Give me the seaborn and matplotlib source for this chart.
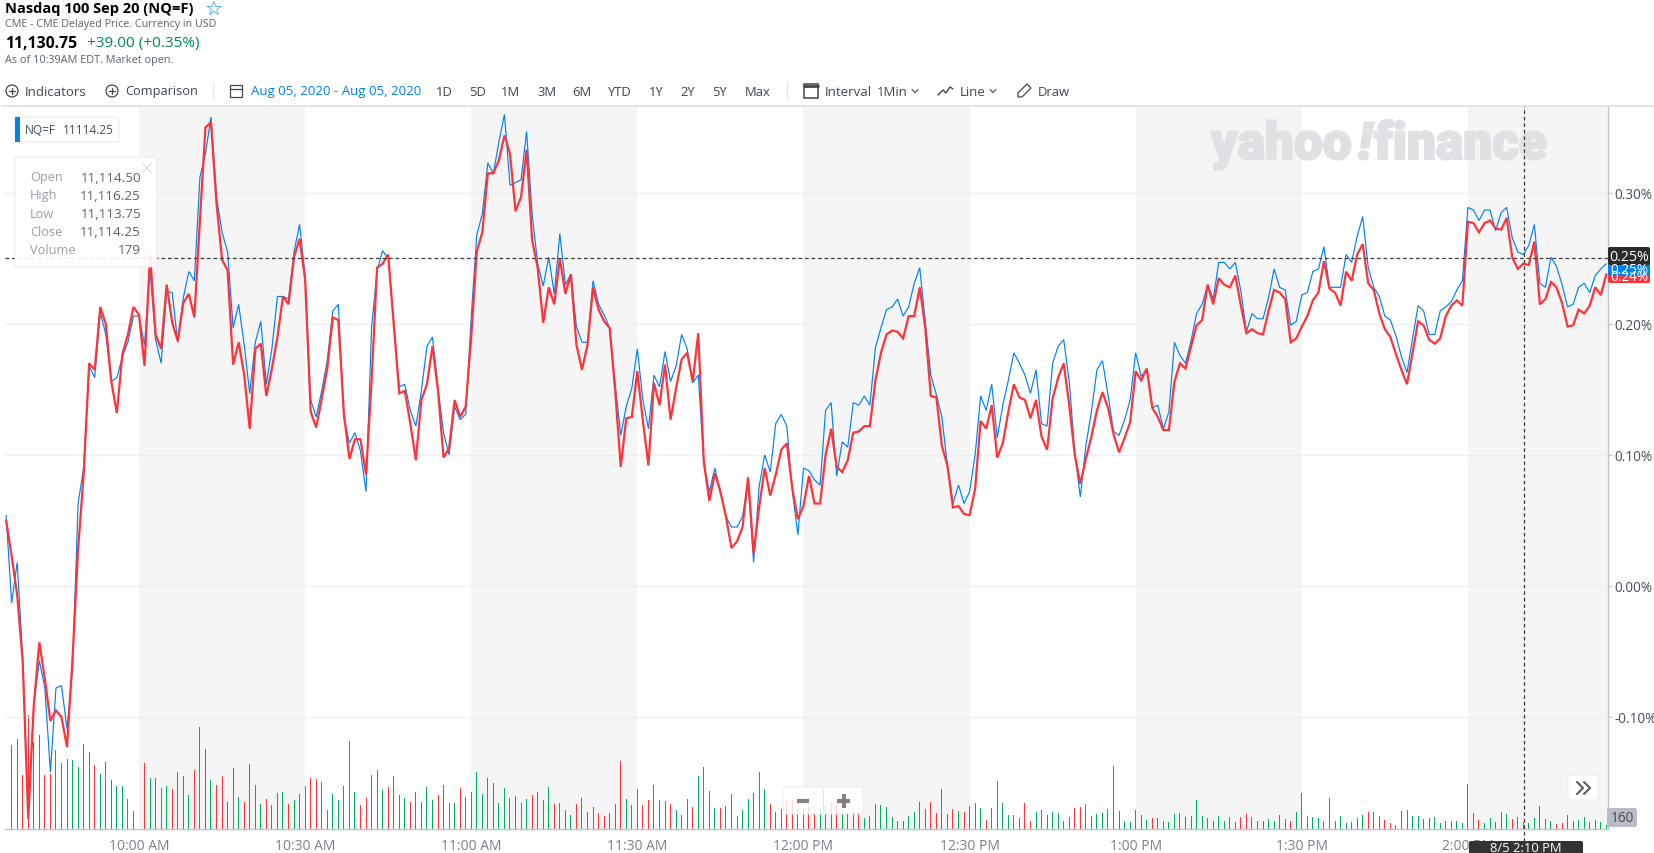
import numpy as np
import pandas as pd
import matplotlib
matplotlib.use("Agg")
import matplotlib.pyplot as plt
import matplotlib.patheffects as pe
from matplotlib.patches import Rectangle, FancyBboxPatch, Circle, Polygon
import seaborn as sns

# ---------- data ----------
close_pct = [
 0.050,0.023,-0.007,-0.058,-0.178,-0.091,-0.043,-0.071,-0.103,-0.095,-0.100,-0.123,-0.055,0.028,0.085,0.170,0.165,0.213,0.200,0.156,
 0.132,0.177,0.192,0.213,0.207,0.168,0.253,0.192,0.181,0.230,0.201,0.187,0.216,0.223,0.205,0.279,0.350,0.354,0.292,0.249,
 0.241,0.169,0.186,0.161,0.120,0.181,0.185,0.145,0.166,0.190,0.221,0.215,0.251,0.265,0.234,0.133,0.121,0.143,0.166,0.205,
 0.203,0.132,0.097,0.112,0.112,0.085,0.156,0.243,0.246,0.253,0.200,0.147,0.149,0.124,0.096,0.142,0.154,0.183,0.149,0.098,
 0.105,0.142,0.129,0.137,0.190,0.255,0.270,0.315,0.315,0.325,0.344,0.330,0.286,0.297,0.333,0.264,0.243,0.201,0.228,0.215,
 0.250,0.223,0.238,0.184,0.165,0.184,0.228,0.211,0.202,0.197,0.149,0.091,0.128,0.129,0.164,0.126,0.092,0.155,0.138,0.169,
 0.127,0.151,0.173,0.178,0.156,0.193,0.095,0.065,0.086,0.072,0.053,0.029,0.034,0.045,0.083,0.025,0.060,0.090,0.069,0.085,
 0.104,0.109,0.074,0.051,0.061,0.084,0.063,0.063,0.100,0.120,0.091,0.087,0.096,0.117,0.118,0.122,0.122,0.157,0.178,0.192,
 0.195,0.194,0.189,0.206,0.206,0.228,0.197,0.145,0.144,0.107,0.092,0.060,0.061,0.055,0.054,0.074,0.126,0.120,0.138,0.098,
 0.109,0.133,0.154,0.144,0.142,0.128,0.142,0.114,0.104,0.143,0.159,0.170,0.138,0.100,0.078,0.097,0.114,0.134,0.148,0.136,
 0.116,0.102,0.113,0.125,0.164,0.157,0.166,0.136,0.129,0.119,0.119,0.156,0.170,0.166,0.183,0.199,0.203,0.230,0.215,0.235,
 0.230,0.228,0.237,0.214,0.193,0.196,0.193,0.192,0.210,0.226,0.224,0.219,0.186,0.189,0.198,0.206,0.218,0.224,0.248,0.227,
 0.224,0.214,0.240,0.233,0.253,0.261,0.231,0.226,0.208,0.196,0.190,0.177,0.165,0.154,0.178,0.202,0.199,0.188,0.185,0.189,
 0.206,0.214,0.218,0.214,0.278,0.277,0.270,0.277,0.279,0.273,0.272,0.281,0.251,0.242,0.246,0.245,0.263,0.215,0.219,0.232,
 0.228,0.216,0.198,0.199,0.211,0.208,0.214,0.228,0.222,0.238]

price_pct = [
 0.054,-0.013,0.018,-0.055,-0.175,-0.090,-0.057,-0.078,-0.142,-0.078,-0.076,-0.109,-0.063,0.063,0.090,0.168,0.159,0.209,0.192,0.156,
 0.159,0.175,0.186,0.206,0.206,0.184,0.241,0.188,0.170,0.225,0.224,0.186,0.220,0.240,0.233,0.312,0.330,0.358,0.297,0.270,
 0.255,0.197,0.215,0.184,0.147,0.186,0.202,0.154,0.181,0.221,0.221,0.219,0.255,0.276,0.237,0.142,0.129,0.149,0.172,0.210,
 0.215,0.128,0.109,0.117,0.103,0.072,0.197,0.241,0.256,0.250,0.202,0.152,0.154,0.134,0.122,0.149,0.183,0.190,0.151,0.117,
 0.100,0.137,0.127,0.131,0.205,0.268,0.284,0.323,0.315,0.339,0.360,0.306,0.308,0.310,0.347,0.284,0.246,0.229,0.251,0.223,
 0.269,0.230,0.238,0.198,0.186,0.186,0.233,0.215,0.207,0.197,0.154,0.115,0.137,0.151,0.181,0.142,0.120,0.161,0.152,0.179,
 0.156,0.168,0.192,0.181,0.155,0.161,0.094,0.072,0.090,0.072,0.053,0.045,0.045,0.053,0.080,0.018,0.076,0.100,0.087,0.124,
 0.131,0.122,0.072,0.039,0.090,0.088,0.081,0.077,0.134,0.140,0.084,0.110,0.106,0.140,0.138,0.145,0.138,0.182,0.197,0.211,
 0.213,0.219,0.206,0.213,0.231,0.243,0.202,0.161,0.146,0.129,0.092,0.063,0.077,0.063,0.072,0.100,0.145,0.134,0.154,0.113,
 0.138,0.157,0.178,0.170,0.161,0.147,0.165,0.124,0.122,0.170,0.183,0.188,0.156,0.102,0.068,0.107,0.133,0.165,0.172,0.146,
 0.118,0.115,0.127,0.142,0.178,0.160,0.165,0.136,0.138,0.120,0.133,0.186,0.176,0.170,0.187,0.208,0.215,0.230,0.219,0.247,
 0.247,0.242,0.247,0.225,0.194,0.208,0.204,0.204,0.220,0.242,0.228,0.226,0.199,0.202,0.222,0.224,0.240,0.242,0.259,0.228,
 0.228,0.228,0.253,0.247,0.267,0.282,0.243,0.228,0.221,0.206,0.203,0.191,0.175,0.163,0.189,0.214,0.210,0.192,0.192,0.210,
 0.213,0.217,0.226,0.233,0.289,0.287,0.279,0.287,0.287,0.271,0.285,0.289,0.266,0.255,0.253,0.260,0.276,0.231,0.228,0.251,
 0.244,0.230,0.213,0.215,0.228,0.231,0.224,0.237,0.242,0.246]

volume = [
 252,270,162,342,260,282,162,165,237,198,210,207,186,255,231,192,165,201,147,129,
 129,90,54,267,198,153,153,123,129,120,171,159,102,177,306,240,147,132,159,81,
 183,96,81,195,132,75,90,72,108,111,75,87,105,129,153,150,141,57,105,87,
 129,264,111,72,93,162,177,117,126,159,102,93,81,111,81,126,87,102,132,78,
 78,123,96,111,171,105,153,138,78,123,93,99,78,90,102,111,87,126,75,78,
 57,42,75,93,51,66,48,39,48,75,204,90,72,120,72,87,132,87,84,75,
 57,42,90,66,159,186,114,63,63,69,105,39,57,90,108,171,120,75,51,60,
 81,87,60,63,66,45,60,69,78,80,45,50,50,50,33,39,75,72,66,36,
 24,24,39,51,81,60,81,48,120,45,60,54,51,69,78,63,27,63,144,78,
 42,42,33,78,24,51,57,42,51,48,24,36,63,66,75,39,45,48,60,189,
 54,24,21,57,42,27,33,33,24,21,45,48,36,39,87,39,33,24,39,24,
 36,21,36,45,36,24,24,30,24,42,30,24,51,108,39,36,33,24,93,24,
 39,18,21,33,42,51,51,39,27,18,12,54,57,39,39,30,33,36,18,24,
 24,24,18,135,48,27,18,33,21,51,45,30,36,21,18,33,69,30,24,15,
 18,42,24,27,36,21,27,21,12]

volume_dir = list(
 "rgrrggrrgg" "rggggrgrrg" "ggggrgrrgr" "rggrgggrrr" "rgrrggrggg"
 "rggrrrgggg" "rrgrrgggrr" "rgrrgggrrr" "grgggggrgg" "rgggrrrgrg"
 "rgrrggrrrr" "rgggrrgrgr" "ggrrgrrgrr" "rgggrggrgg" "rrrgrrgggr"
 "grrrgrgggg" "grgggrrrrr" "rgrgggrgrg" "ggrrrgrrgg" "grrrggggrr"
 "rgggrgrgrg" "grrggggrgg" "rgrrgrgggr" "rrggggggrg" "ggrggrrrrr"
 "rrrggrrggg" "ggggrrggrg" "grrrggrrgr" "rrgggrggg")

time_labels = ["10:00 AM", "10:30 AM", "11:00 AM", "11:30 AM", "12:00 PM", "12:30 PM", "1:00 PM", "1:30 PM", "2:00 PM"]
time_minutes = [24, 54, 84, 114, 144, 174, 204, 234, 264]      # minutes after 9:36
pct_ticks = [-0.10, 0.00, 0.10, 0.20, 0.30]
shaded_sessions = [(24, 54), (84, 114), (144, 174), (204, 234), (264, 289.3)]
crosshair_pct = 0.25
crosshair_minute = 274.2

# ---------- frames ----------
minutes = np.arange(len(close_pct))
lines_df = pd.DataFrame({"minute": minutes, "price": price_pct, "close": close_pct})
vol_df = pd.DataFrame({"minute": minutes[1:], "volume": volume, "dir": volume_dir})

W, H = 1654, 854
BLUE, RED, GREEN = "#0081f2", "#ff333a", "#00b061"
GREY_TXT = "#7b8089"
AXIS_GREY = "#c0c4ca"

sns.set_theme(style="white")
plt.rcParams["font.family"] = ["Open Sans", "DejaVu Sans"]

fig = plt.figure(figsize=(W / 100, H / 100), dpi=100, facecolor="white")
rect = [5 / W, (H - 830) / H, (1608 - 5) / W, (830 - 107) / H]

# volume layer (beneath)
ax_vol = fig.add_axes(rect, zorder=1)
ax_vol.set_xlim(-0.2, 289.3)
ax_vol.set_ylim(0, 2169)
for a, b in shaded_sessions:
    ax_vol.axvspan(a, b, color="#f5f5f5", lw=0, zorder=0)
sns.barplot(data=vol_df, x="minute", y="volume", hue="dir", palette={"r": RED, "g": GREEN},
            native_scale=True, dodge=False, width=0.18, legend=False, linewidth=0, saturation=1,
            ax=ax_vol, zorder=3)
ax_vol.set_xlim(-0.2, 289.3)
ax_vol.set_ylim(0, 2169)
ax_vol.axis("off")

# watermark, above the shaded bands and below the lines
wm = dict(fontsize=37, fontweight="black", family="Roboto", color="#dfe1e5", zorder=1, va="baseline",
          transform=fig.transFigure, clip_on=False,
          path_effects=[pe.withStroke(linewidth=1.6, foreground="#dfe1e5")])
ax_vol.text(1211 / W, 1 - 160 / H, "yahoo", ha="left", **wm)
ax_vol.text(1372 / W, 1 - 160 / H, "!", ha="right", style="italic", **wm)
ax_vol.text(1547 / W, 1 - 160 / H, "finance", ha="right", **wm)

# price layer
ax = fig.add_axes(rect, zorder=2)
ax.patch.set_alpha(0)
sns.lineplot(data=lines_df, x="minute", y="price", color=BLUE, lw=0.85, estimator=None, sort=False,
             solid_joinstyle="miter", ax=ax, zorder=4)
sns.lineplot(data=lines_df, x="minute", y="close", color=RED, lw=1.6, estimator=None, sort=False,
             solid_joinstyle="miter", ax=ax, zorder=5)
ax.set_xlim(-0.2, 289.3)
ax.set_ylim(-0.1855, 0.3664)
ax.set_xlabel("")
ax.set_ylabel("")
ax.set_xticks(time_minutes)
ax.set_xticklabels(time_labels)
ax.yaxis.tick_right()
ax.set_yticks(pct_ticks)
ax.set_yticklabels([f"{v:.2f}%" for v in pct_ticks])
ax.tick_params(axis="x", length=3.6, width=0.8, color=AXIS_GREY, labelcolor=GREY_TXT, labelsize=10, pad=3)
ax.tick_params(axis="y", length=2.9, width=0.8, color=AXIS_GREY, labelcolor="#464e56", labelsize=9.8, pad=1.5,
               right=True, left=False)
ax.grid(axis="y", color="#efefef", lw=1.0)
ax.grid(axis="x", visible=False)
ax.set_axisbelow(True)
for s in ["top", "left"]:
    ax.spines[s].set_visible(False)
for s in ["bottom", "right"]:
    ax.spines[s].set_visible(True)
    ax.spines[s].set_color(AXIS_GREY)
    ax.spines[s].set_linewidth(1.0)

# crosshair
ax.axhline(crosshair_pct, color="#3c3c3c", lw=0.9, ls=(0, (3, 2.2)), zorder=6)
ax.plot([crosshair_minute, crosshair_minute], [-0.2, 0.3664], color="#3c3c3c", lw=0.9, ls=(0, (3, 2.2)),
        clip_on=False, zorder=6)

# ---------- overlay in pixel coordinates: page furniture ----------
ov = fig.add_axes([0, 0, 1, 1], zorder=5)
ov.set_xlim(0, W)
ov.set_ylim(H, 0)
ov.axis("off")
ov.patch.set_alpha(0)

ov.plot([2, W], [107, 107], color="#e3e4e6", lw=1.4)

# header
ov.text(5, 9.5, "Nasdaq 100 Sep 20 (NQ=F)", fontsize=10.55, fontweight="bold", color="#000000", va="center")
ov.text(214, 9, "☆", fontsize=14.5, fontweight="bold", color=BLUE, va="center", ha="center", family="DejaVu Sans")
ov.text(5, 25, "CME - CME Delayed Price. Currency in USD", fontsize=7.75, color="#5b636a", va="center")
ov.text(5, 44, "11,130.75", fontsize=11.3, fontweight="bold", color="#000000", va="center")
ov.text(87, 44, "+39.00 (+0.35%)", fontsize=11.05, color="#008a4e", va="center")
ov.text(5, 60, "As of 10:39AM EDT. Market open.", fontsize=7.85, color="#5b636a", va="center")

# toolbar
TB = "#3f464d"
def plus_circle(x):
    ov.add_patch(Circle((x, 92), 6, fill=False, ec=TB, lw=0.9))
    ov.plot([x - 3, x + 3], [92, 92], color=TB, lw=0.9)
    ov.plot([x, x], [89, 95], color=TB, lw=0.9)
plus_circle(12)
ov.text(25, 92, "Indicators", fontsize=9.5, color=TB, va="center")
plus_circle(112)
ov.text(125, 92, "Comparison", fontsize=9.2, color=TB, va="center")
ov.plot([213, 213], [83, 100], color="#e3e4e6", lw=1)
ov.add_patch(Rectangle((230, 86), 12, 12, fill=False, ec=TB, lw=0.9))
ov.plot([230, 242], [90, 90], color=TB, lw=0.9)
ov.text(251, 92, "Aug 05, 2020 - Aug 05, 2020", fontsize=9.55, color=BLUE, va="center")
for label, x in zip(["1D", "5D", "1M", "3M", "6M", "YTD", "1Y", "2Y", "5Y", "Max"],
                    [436, 469, 501, 537, 572, 608, 649, 680, 712, 745]):
    ov.text(x, 92, label, fontsize=9.4, color=TB, va="center")
ov.plot([787, 787], [83, 100], color="#e3e4e6", lw=1)
ov.add_patch(Rectangle((804, 85), 14, 14, fill=False, ec=TB, lw=1.1))
ov.plot([804, 818], [87, 87], color=TB, lw=2)
ov.text(825, 92, "Interval", fontsize=9.5, color=TB, va="center")
ov.text(877, 92, "1Min", fontsize=9.5, color=TB, va="center")
ov.plot([912, 915, 918], [90.5, 93.5, 90.5], color=TB, lw=0.8)
ov.plot([938, 943, 946, 950, 953], [96, 91, 94, 88, 90], color=TB, lw=1)
ov.text(960, 92, "Line", fontsize=9.5, color=TB, va="center")
ov.plot([990, 993, 996], [90.5, 93.5, 90.5], color=TB, lw=0.8)
ov.add_patch(Polygon([[1018, 98], [1022, 98], [1031, 89], [1027, 85], [1018, 94]], closed=True, fill=False, ec=TB, lw=0.9))
ov.text(1038, 92, "Draw", fontsize=9.4, color=TB, va="center")

# symbol tag
def card(x0, y0, x1, y1, alpha=1.0, fc="white"):
    ov.add_patch(FancyBboxPatch((x0 + 2, y0 + 2), x1 - x0 - 4, y1 - y0 - 4, boxstyle="round,pad=2,rounding_size=2",
                                fc=fc, ec="#ececec", lw=0.8, alpha=alpha))
card(15, 118, 119, 143)
ov.add_patch(Rectangle((15, 118), 5, 25, color=BLUE, lw=0))
ov.text(25, 131, "NQ=F", fontsize=8.6, color="#464e56", va="center")
ov.text(114, 131, "11114.25", fontsize=8.6, color="#464e56", va="center", ha="right")

# OHLC tooltip
card(15, 158, 157, 268, alpha=0.9)
for lab, val, y in zip(["Open", "High", "Low", "Close", "Volume"],
                       ["11,114.50", "11,116.25", "11,113.75", "11,114.25", "179"],
                       [178, 196, 214, 232, 250.5]):
    ov.text(30, y, lab, fontsize=9.2, color="#9a9ea5", va="center")
    ov.text(141, y, val, fontsize=9.7, color="#5b636a", va="center", ha="right")
ov.plot([143, 151], [165, 173], color="#d8d8d8", lw=0.8)
ov.plot([143, 151], [173, 165], color="#d8d8d8", lw=0.8)

# price flags on the right axis
for y0, y1, c, t, sz in [(270, 284, RED, "0.24%", 9.8), (262, 277, BLUE, "0.25%", 9.8),
                         (248, 266, "#2b2b2b", "0.25%", 10.2)]:
    ov.add_patch(FancyBboxPatch((1609, y0 + 1), 40, y1 - y0 - 2, boxstyle="round,pad=1,rounding_size=2", fc=c, ec="none"))
    ov.text(1629, (y0 + y1) / 2 + 1, t, fontsize=sz, color="white", va="center", ha="center")

# current-volume flag
ov.add_patch(FancyBboxPatch((1608, 810), 28, 17, boxstyle="round,pad=1,rounding_size=2", fc="#b8bcc6", ec="none"))
ov.text(1622, 819, "160", fontsize=9.8, color="#464e56", va="center", ha="center")

# date tooltip
ov.add_patch(FancyBboxPatch((1471, 844), 110, 30, boxstyle="round,pad=2,rounding_size=2", fc="#333333", ec="none"))
ov.text(1526, 848.5, "8/5 2:10 PM", fontsize=9.4, color="white", va="center", ha="center")

# zoom control
card(783, 788, 863, 815, alpha=0.82)
ov.plot([797, 809], [802, 802], color="#7d7d7d", lw=3, solid_capstyle="butt", alpha=0.95)
ov.plot([837, 850], [802, 802], color="#7d7d7d", lw=3, solid_capstyle="butt", alpha=0.95)
ov.plot([843.5, 843.5], [795, 809], color="#7d7d7d", lw=3, solid_capstyle="butt", alpha=0.95)
ov.plot([823, 823], [790, 813], color="#e5e5e5", lw=0.8)

# ">>" button
card(1568, 776, 1598, 801)
ov.plot([1577, 1583, 1577], [783, 789, 795], color="#5c5c5c", lw=1.5)
ov.plot([1584, 1590, 1584], [783, 789, 795], color="#5c5c5c", lw=1.5)

fig.savefig("out.png", dpi=100)
